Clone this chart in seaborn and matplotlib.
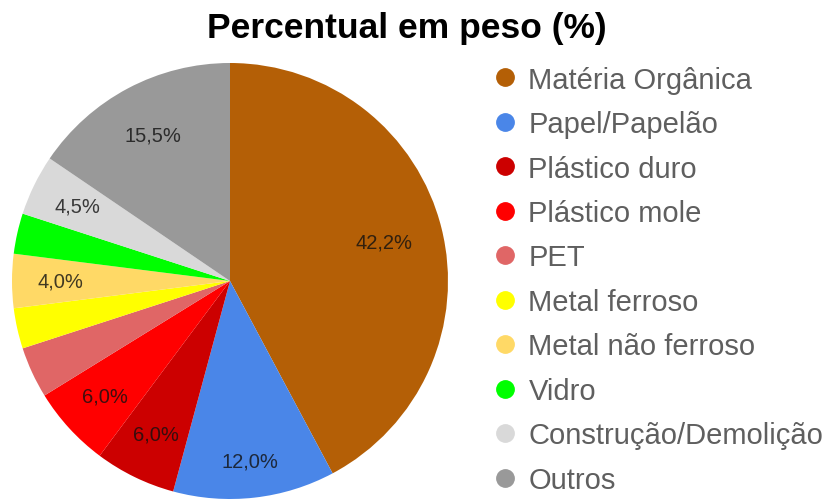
import matplotlib.pyplot as plt
import numpy as np
import seaborn as sns
from matplotlib.lines import Line2D

# composition data
categories = [
    'Matéria Orgânica', 'Papel/Papelão', 'Plástico duro', 'Plástico mole',
    'PET', 'Metal ferroso', 'Metal não ferroso', 'Vidro',
    'Construção/Demolição', 'Outros',
]
percentages = [42.2, 12.0, 6.0, 6.0, 3.8, 3.0, 4.0, 3.0, 4.5, 15.5]
slice_colors = [
    '#b45f06', '#4a86e8', '#cc0000', '#ff0000', '#e06666',
    '#ffff00', '#ffd966', '#00ff00', '#d9d9d9', '#999999',
]
title = 'Percentual em peso (%)'


def label_radius(val):
    # rough distance of the value label from the centre
    if val < 10:
        return 0.78
    if val < 13:
        return 0.83
    if val < 20:
        return 0.76
    return 0.73


sns.set_theme(style='white')
plt.rcParams['font.family'] = ['Liberation Sans', 'DejaVu Sans']

palette = sns.color_palette(slice_colors)

fig = plt.figure(figsize=(8.27, 5.02), dpi=100)
ax = fig.add_axes([12 / 827, 2 / 502, 436 / 827, 436 / 502])

wedges, _ = ax.pie(
    percentages,
    colors=palette,
    startangle=90,
    counterclock=False,
    radius=1.0,
    wedgeprops={'linewidth': 0},
)
ax.set_xlim(-1, 1)
ax.set_ylim(-1, 1)
ax.set_aspect('equal')
ax.axis('off')

# value labels, hidden on slices that are too small (like the original)
total = sum(percentages)
start = 90.0
for val in percentages:
    sweep = 360.0 * val / total
    mid = np.deg2rad(start - sweep / 2)
    start -= sweep
    if val < 4.0:
        continue
    rad = label_radius(val)
    ax.text(
        rad * np.cos(mid), rad * np.sin(mid),
        f'{val:.1f}%'.replace('.', ','),
        ha='center', va='center', fontsize=14.5,
        color='#111111', alpha=0.8,
    )

fig.text(0.492, 0.944, title, ha='center', va='center',
         fontsize=25.5, fontweight='bold', color='black')

handles = [
    Line2D([0], [0], marker='o', linestyle='', markersize=12.5,
           markerfacecolor=c, markeredgecolor=c)
    for c in slice_colors
]
fig.legend(
    handles, categories,
    loc='upper left',
    bbox_to_anchor=(476 / 827, 1 - 52 / 502),
    frameon=False,
    fontsize=21,
    labelcolor='#5f5f5f',
    handletextpad=0.3,
    handlelength=1.0,
    labelspacing=0.565,
    borderpad=0,
)

fig.savefig('out.png', dpi=100)
